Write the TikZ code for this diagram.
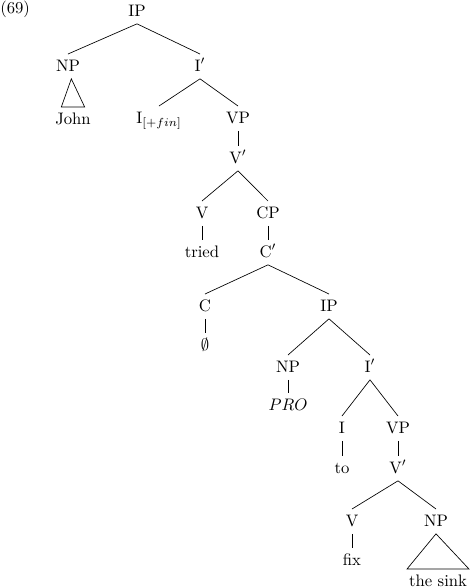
\documentclass[tikz,border=0pt]{standalone}
\usetikzlibrary{positioning}
\tikzset{
  lbl/.style={anchor=base, inner xsep=1pt, inner ysep=3pt, text height=7pt, text depth=1.5pt},
  br/.style={line width=0.4pt}
}
\begin{document}
\begin{tikzpicture}[x=0.6pt,y=-0.6pt]
  \useasboundingbox (0,0) rectangle (470,587);

  \node[anchor=base west, inner sep=0pt] at (0,13) (ex69) {(69)};

  % upper tree
  \node[lbl] at (137,16) (ip1) {IP};
  \node[lbl] at (68,71) (np1) {NP};
  \node[lbl] at (200,71) (ib1) {I$'$};
  \node[lbl] at (73,124) (jn) {John};
  \node[lbl] at (159,123) (i1) {I$_{[+fin]}$};
  \node[lbl] at (238,123) (vp1) {VP};
  \node[lbl] at (238,163) (vb1) {V$'$};
  \node[lbl] at (202,218) (v1) {V};
  \node[lbl] at (268,218) (cp) {CP};
  \node[lbl] at (202,257) (tr) {tried};
  \node[lbl] at (268,257) (cb) {C$'$};
  \node[lbl] at (205,311) (c1) {C};
  \node[lbl] at (329,311) (ip2) {IP};
  \node[lbl] at (205,350) (emp) {$\emptyset$};

  % lower tree
  \node[lbl] at (288,372) (np2) {NP};
  \node[lbl] at (370,372) (ib2) {I$'$};
  \node[lbl] at (288,410) (pro) {$PRO$};
  \node[lbl] at (342,433) (i2) {I};
  \node[lbl] at (398,433) (vp2) {VP};
  \node[lbl] at (342,473) (to) {to};
  \node[lbl] at (398,473) (vb2) {V$'$};
  \node[lbl] at (352,526) (v2) {V};
  \node[lbl] at (436,526) (np3) {NP};
  \node[lbl] at (352,565) (fix) {fix};
  \node[lbl] at (438,586) (sink) {the sink};

  \draw[br] (ip1.south)--(np1.north);
  \draw[br] (ip1.south)--(ib1.north);
  \draw[br] ([xshift=2pt]np1.south)--([xshift=-7pt]jn.north)--([xshift=7pt]jn.north)--cycle;
  \draw[br] (ib1.south)--(i1.north);
  \draw[br] (ib1.south)--(vp1.north);
  \draw[br] (vp1.south)--(vb1.north);
  \draw[br] (vb1.south)--(v1.north);
  \draw[br] (vb1.south)--(cp.north);
  \draw[br] (v1.south)--(tr.north);
  \draw[br] (cp.south)--(cb.north);
  \draw[br] (cb.south)--(c1.north);
  \draw[br] (cb.south)--(ip2.north);
  \draw[br] (c1.south)--(emp.north);
  \draw[br] (ip2.south)--(np2.north);
  \draw[br] (ip2.south)--(ib2.north);
  \draw[br] (np2.south)--(pro.north);
  \draw[br] (ib2.south)--(i2.north);
  \draw[br] (ib2.south)--(vp2.north);
  \draw[br] (i2.south)--(to.north);
  \draw[br] (vp2.south)--(vb2.north);
  \draw[br] (vb2.south)--(v2.north);
  \draw[br] (vb2.south)--(np3.north);
  \draw[br] (v2.south)--(fix.north);
  \draw[br] (np3.south)--(sink.north west)--(sink.north east)--cycle;
\end{tikzpicture}
\end{document}
